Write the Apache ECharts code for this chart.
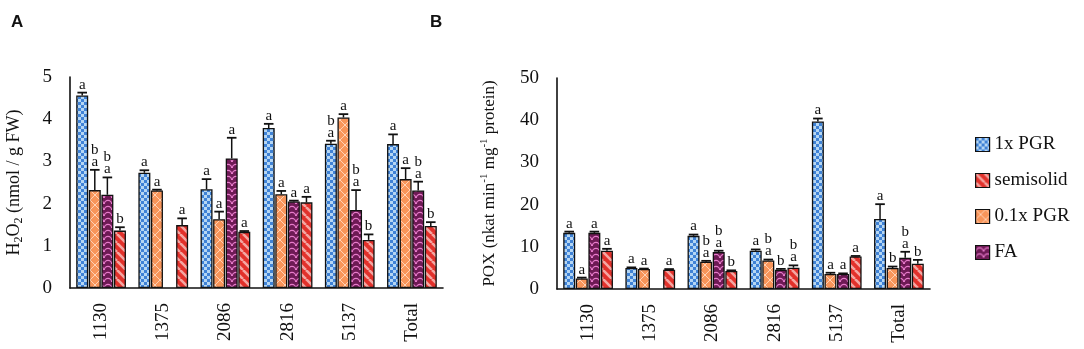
<!DOCTYPE html>
<html><head><meta charset="utf-8">
<script src="https://cdn.jsdelivr.net/npm/echarts@6/dist/echarts.min.js"></script>
<style>html,body{margin:0;padding:0;background:#fff}#c{width:1084px;height:349px}</style>
</head><body><div id="c"></div>
<script>
// ---------- data ----------
const categories = ['1130', '1375', '2086', '2816', '5137', 'Total'];
const seriesNames = ['1x PGR', '0.1x PGR', 'FA', 'semisolid'];
const legendOrder = ['1x PGR', 'semisolid', '0.1x PGR', 'FA'];
const yTicksA = [0, 1, 2, 3, 4, 5];
const yTicksB = [0, 10, 20, 30, 40, 50];

// Panel A: H2O2 (nmol / g FW)
const h2o2_pgr1 = [4.56, 2.73, 2.34, 3.79, 3.42, 3.41];
const h2o2_pgr1_err = [0.07, 0.06, 0.24, 0.10, 0.07, 0.23];
const h2o2_pgr01 = [2.32, 2.31, 1.63, 2.22, 4.04, 2.58];
const h2o2_pgr01_err = [0.48, 0.02, 0.18, 0.08, 0.08, 0.26];
const h2o2_fa = [2.21, '-', 3.07, 2.05, 1.85, 2.31];
const h2o2_fa_err = [0.41, '-', 0.49, 0.02, 0.47, 0.21];
const h2o2_semi = [1.36, 1.49, 1.33, 2.03, 1.14, 1.47];
const h2o2_semi_err = [0.08, 0.16, 0.02, 0.13, 0.13, 0.09];
const h2o2_pgr1_sig = ['a', 'a', 'a', 'a', 'b\na', 'a'];
const h2o2_pgr01_sig = ['b\na', 'a', 'a', 'a', 'a', 'a'];
const h2o2_fa_sig = ['b\na', '', 'a', 'a', 'b\na', 'b\na'];
const h2o2_semi_sig = ['b', 'a', 'a', 'a', 'b', 'b'];

// Panel B: POX (nkat min-1 mg-1 protein)
const pox_pgr1 = [13.3, 4.97, 12.6, 9.07, 39.7, 16.6];
const pox_pgr1_err = [0.3, 0.15, 0.3, 0.3, 0.7, 3.5];
const pox_pgr01 = [2.5, 4.74, 6.47, 6.78, 3.55, 4.97];
const pox_pgr01_err = [0.2, 0.1, 0.2, 0.2, 0.3, 0.35];
const pox_fa = [13.3, '-', 8.77, 4.57, 3.55, 7.42];
const pox_fa_err = [0.3, '-', 0.3, 0.2, 0.15, 1.4];
const pox_semi = [9.07, 4.57, 4.27, 5.05, 7.73, 6.0];
const pox_semi_err = [0.45, 0.15, 0.15, 0.55, 0.1, 0.9];
const pox_pgr1_sig = ['a', 'a', 'a', 'a', 'a', 'a'];
const pox_pgr01_sig = ['a', 'a', 'b\na', 'b\na', 'a', 'b'];
const pox_fa_sig = ['a', '', 'b\na', 'b', 'a', 'b\na'];
const pox_semi_sig = ['a', 'a', 'b', 'b\na', 'a', 'b'];

// ---------- patterns ----------
function canvasPattern(w, h, draw) {
  const c = document.createElement('canvas');
  c.width = w; c.height = h;
  draw(c.getContext('2d'), w, h);
  return { image: c, repeat: 'repeat' };
}
const patChecker = canvasPattern(6, 6, (g) => {
  g.fillStyle = '#b5d6f3'; g.fillRect(0, 0, 6, 6);
  g.fillStyle = '#3f82d6'; g.fillRect(0, 0, 3, 3); g.fillRect(3, 3, 3, 3);
});
const patCross = canvasPattern(10, 10, (g) => {
  g.fillStyle = '#f8955a'; g.fillRect(0, 0, 10, 10);
  g.strokeStyle = 'rgba(255,215,190,0.9)'; g.lineWidth = 1;
  g.beginPath(); g.moveTo(0, 0); g.lineTo(10, 10); g.moveTo(10, 0); g.lineTo(0, 10); g.stroke();
});
const patWave = canvasPattern(8, 6, (g) => {
  g.fillStyle = '#6e1a55'; g.fillRect(0, 0, 8, 6);
  g.strokeStyle = '#e77ccb'; g.lineWidth = 1.1;
  g.beginPath(); g.arc(4, 6, 3.6, Math.PI, 2 * Math.PI); g.stroke();
});
const patStripe = canvasPattern(9, 9, (g) => {
  g.fillStyle = '#e2312b'; g.fillRect(0, 0, 9, 9);
  g.strokeStyle = '#f4a6a2'; g.lineWidth = 2.6;
  g.beginPath();
  for (let k = -9; k <= 9; k += 9) { g.moveTo(k, 0); g.lineTo(k + 9, 9); }
  g.stroke();
});
const patterns = [patChecker, patCross, patWave, patStripe];

// ---------- helpers ----------
const SERIF = 'Liberation Serif';
const CAT_GAP = 0.2, BAR_GAP = 0.05, N = 4;

function barSeries(name, idx, vals, axisIdx) {
  return {
    type: 'bar', name: name, xAxisIndex: axisIdx, yAxisIndex: axisIdx,
    data: vals, barCategoryGap: '20%', barGap: '5%',
    itemStyle: { color: patterns[idx], borderColor: '#111', borderWidth: 1.3 },
    emphasis: { disabled: true }, animation: false
  };
}
function errSeries(idx, vals, errs, sig, axisIdx) {
  const items = [];
  vals.forEach((v, i) => { if (v !== '-') items.push({ i: i, v: v, e: errs[i], s: sig[i] }); });
  return {
    type: 'custom', xAxisIndex: axisIdx, yAxisIndex: axisIdx, z: 5, silent: true, animation: false,
    data: items.map(d => [d.i, d.v, d.e]),
    renderItem: function (params, api) {
      const d = items[params.dataIndex];
      const band = api.size([1, 0])[0];
      const usable = band * (1 - CAT_GAP);
      const bw = usable / (N + (N - 1) * BAR_GAP);
      const cx = api.coord([d.i, 0])[0] - usable / 2 + bw / 2 + idx * bw * (1 + BAR_GAP);
      const y0 = api.coord([d.i, d.v])[1];
      const y1 = api.coord([d.i, d.v + d.e])[1];
      const cap = bw * 0.8;
      return {
        type: 'group', children: [
          { type: 'line', shape: { x1: cx, y1: y0, x2: cx, y2: y1 }, style: { stroke: '#111', lineWidth: 1.5 } },
          { type: 'line', shape: { x1: cx - cap / 2, y1: y1, x2: cx + cap / 2, y2: y1 }, style: { stroke: '#111', lineWidth: 1.8 } },
          { type: 'text', style: { text: d.s, x: cx, y: y1 - 2, align: 'center', verticalAlign: 'bottom',
              font: '15px "' + SERIF + '"', lineHeight: 12, fill: '#111' } }
        ]
      };
    }
  };
}

const axisText = { fontFamily: SERIF, color: '#111' };
function xAxis(gridIndex) {
  return {
    type: 'category', gridIndex: gridIndex, data: categories,
    axisLine: { lineStyle: { color: '#111', width: 1.6 } }, axisTick: { show: false },
    axisLabel: Object.assign({ rotate: 90, fontSize: 19, margin: 15 }, axisText)
  };
}
function yAxis(gridIndex, ticks, name, rich, gap) {
  return {
    type: 'value', gridIndex: gridIndex, min: ticks[0], max: ticks[ticks.length - 1],
    interval: ticks[1] - ticks[0],
    axisLine: { show: true, lineStyle: { color: '#111', width: 1.6 } }, axisTick: { show: false },
    splitLine: { show: false },
    axisLabel: Object.assign({ fontSize: 19, margin: 18 }, axisText),
    name: name, nameLocation: 'middle', nameGap: gap,
    nameTextStyle: { rich: rich }
  };
}
const richA = {
  n: { fontFamily: SERIF, fontSize: 18, color: '#111', lineHeight: 22 },
  s: { fontFamily: SERIF, fontSize: 12, color: '#111', lineHeight: 22, verticalAlign: 'bottom' }
};
const richB = {
  n: { fontFamily: SERIF, fontSize: 17, color: '#111', lineHeight: 22 },
  p: { fontFamily: SERIF, fontSize: 11, color: '#111', lineHeight: 22, verticalAlign: 'top' }
};

const series = [
  barSeries(seriesNames[0], 0, h2o2_pgr1, 0),
  barSeries(seriesNames[1], 1, h2o2_pgr01, 0),
  barSeries(seriesNames[2], 2, h2o2_fa, 0),
  barSeries(seriesNames[3], 3, h2o2_semi, 0),
  errSeries(0, h2o2_pgr1, h2o2_pgr1_err, h2o2_pgr1_sig, 0),
  errSeries(1, h2o2_pgr01, h2o2_pgr01_err, h2o2_pgr01_sig, 0),
  errSeries(2, h2o2_fa, h2o2_fa_err, h2o2_fa_sig, 0),
  errSeries(3, h2o2_semi, h2o2_semi_err, h2o2_semi_sig, 0),
  barSeries(seriesNames[0], 0, pox_pgr1, 1),
  barSeries(seriesNames[1], 1, pox_pgr01, 1),
  barSeries(seriesNames[2], 2, pox_fa, 1),
  barSeries(seriesNames[3], 3, pox_semi, 1),
  errSeries(0, pox_pgr1, pox_pgr1_err, pox_pgr1_sig, 1),
  errSeries(1, pox_pgr01, pox_pgr01_err, pox_pgr01_sig, 1),
  errSeries(2, pox_fa, pox_fa_err, pox_fa_sig, 1),
  errSeries(3, pox_semi, pox_semi_err, pox_semi_sig, 1)
];

const chart = echarts.init(document.getElementById('c'), null, { renderer: 'canvas' });
chart.setOption({
  animation: false,
  backgroundColor: '#fff',
  title: [
    { text: 'A', left: 6, top: 9, textStyle: { fontFamily: 'Liberation Sans', fontWeight: 'bold', fontSize: 17, color: '#111' } },
    { text: 'B', left: 425, top: 9, textStyle: { fontFamily: 'Liberation Sans', fontWeight: 'bold', fontSize: 17, color: '#111' } }
  ],
  grid: [
    { left: 70, top: 77, width: 373, height: 211 },
    { left: 557, top: 78, width: 373, height: 211 }
  ],
  xAxis: [xAxis(0), xAxis(1)],
  yAxis: [
    yAxis(0, yTicksA, '{n|H}{s|2}{n|O}{s|2}{n| (nmol / g FW)}', richA, 45),
    yAxis(1, yTicksB, '{n|POX (nkat min}{p|-1}{n| mg}{p|-1}{n| protein)}', richB, 56)
  ],
  legend: {
    data: legendOrder, orient: 'vertical', left: 970, top: 130,
    itemWidth: 14, itemHeight: 14, itemGap: 17, icon: 'rect',
    textStyle: { fontFamily: SERIF, fontSize: 19, color: '#111' },
    itemStyle: { borderColor: '#111', borderWidth: 1.2 },
    selectedMode: false
  },
  series: series
});
</script></body></html>
